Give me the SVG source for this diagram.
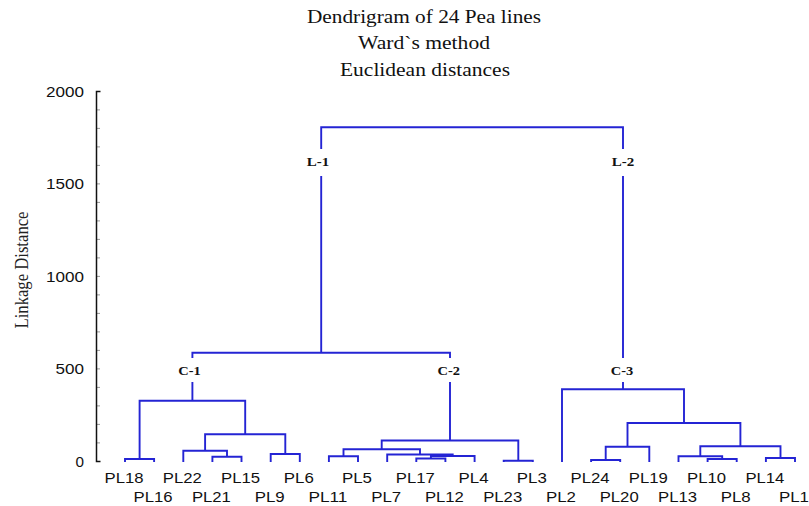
<svg xmlns="http://www.w3.org/2000/svg" width="809" height="506" viewBox="0 0 809 506">
<style>
.title{font-family:"Liberation Serif","Times New Roman",serif;font-size:19px;fill:#111;text-anchor:middle}
.ylab{font-family:"Liberation Serif","Times New Roman",serif;font-size:18px;fill:#222;text-anchor:middle}
.num{font-family:"Liberation Sans",Arial,sans-serif;font-size:14.5px;fill:#111;text-anchor:end}
.leaf{font-family:"Liberation Sans",Arial,sans-serif;font-size:14px;fill:#111;text-anchor:middle}
.cl{font-family:"Liberation Serif","Times New Roman",serif;font-size:12.5px;font-weight:bold;fill:#111;text-anchor:middle}
.link{fill:none;stroke:#2424d4;stroke-width:1.9}
.axis{fill:none;stroke:#111;stroke-width:1.5}
.minor{stroke:#999;stroke-width:1}
</style>
<rect width="809" height="506" fill="#fff"/>
<g id="title">
<text class="title" x="424" y="23" textLength="234" lengthAdjust="spacingAndGlyphs">Dendrigram of 24 Pea lines</text>
<text class="title" x="424" y="49" textLength="132" lengthAdjust="spacingAndGlyphs">Ward`s method</text>
<text class="title" x="425" y="76" textLength="170" lengthAdjust="spacingAndGlyphs">Euclidean distances</text>
</g>
<g id="y-axis">
<path class="minor" d="M96.5 109.9H100M96.5 128.4H100M96.5 146.9H100M96.5 165.4H100M96.5 202.4H100M96.5 220.9H100M96.5 239.4H100M96.5 257.9H100M96.5 294.9H100M96.5 313.4H100M96.5 331.9H100M96.5 350.4H100M96.5 387.4H100M96.5 405.9H100M96.5 424.4H100M96.5 442.9H100M96.5 183.9H100M96.5 276.4H100M96.5 368.9H100"/>
<path class="axis" d="M100.5 91.5H96.5V461.5H100.5"/>
<text class="num" x="84" y="96.5" textLength="38" lengthAdjust="spacingAndGlyphs">2000</text>
<text class="num" x="84" y="189" textLength="38" lengthAdjust="spacingAndGlyphs">1500</text>
<text class="num" x="84" y="281.5" textLength="38" lengthAdjust="spacingAndGlyphs">1000</text>
<text class="num" x="84" y="374" textLength="28.5" lengthAdjust="spacingAndGlyphs">500</text>
<text class="num" x="84" y="466.5" textLength="8.5" lengthAdjust="spacingAndGlyphs">0</text>
<text class="ylab" transform="translate(27.5,270) rotate(-90)" x="0" y="0" textLength="117" lengthAdjust="spacingAndGlyphs">Linkage Distance</text>
</g>
<g id="connectors">
<path class="link" d="M125 462V459H154.1V462"/>
<path class="link" d="M212.4 462V456.7H241.5V462"/>
<path class="link" d="M183.3 462V450.7H227V456.7"/>
<path class="link" d="M270.7 462V454H299.8V462"/>
<path class="link" d="M205.1 450.7V434.3H285.3V454"/>
<path class="link" d="M139.6 459V400.7H245.2V434.3"/>
<path class="link" d="M192.4 400.7V382M192.4 358V352.7H450V358M450 382V440.5"/>
<path class="link" d="M328.9 462V456.3H358V462"/>
<path class="link" d="M416.3 462V458.5H445.4V462"/>
<path class="link" d="M430.9 458.5V456H474.6V462"/>
<path class="link" d="M387.2 462V454.5H452.7V456"/>
<path class="link" d="M343.5 456.3V449.3H420V454.5"/>
<path class="link" d="M503.7 462V460.7H532.8V462"/>
<path class="link" d="M381.7 449.3V440.5H518.3V460.7"/>
<path class="link" d="M321.2 352.7V176M321.2 149V127.3H623V149M623 176V358M623 382V389.3"/>
<path class="link" d="M591.1 462V460H620.2V462"/>
<path class="link" d="M605.7 460V446.7H649.3V462"/>
<path class="link" d="M707.6 462V459H736.7V462"/>
<path class="link" d="M678.5 462V456.3H722.2V459"/>
<path class="link" d="M765.9 462V458H795V462"/>
<path class="link" d="M700.3 456.3V446.3H780.5V458"/>
<path class="link" d="M627.5 446.7V423H740.4V446.3"/>
<path class="link" d="M562 462V389.3H684V423"/>
</g>
<g id="node-L-1"><text class="cl" x="318" y="166" textLength="22.5" lengthAdjust="spacingAndGlyphs">L-1</text></g>
<g id="node-L-2"><text class="cl" x="623" y="166" textLength="22.5" lengthAdjust="spacingAndGlyphs">L-2</text></g>
<g id="node-C-1"><text class="cl" x="189.5" y="375" textLength="22.5" lengthAdjust="spacingAndGlyphs">C-1</text></g>
<g id="node-C-2"><text class="cl" x="448.7" y="375" textLength="22.5" lengthAdjust="spacingAndGlyphs">C-2</text></g>
<g id="node-C-3"><text class="cl" x="622" y="375" textLength="22.5" lengthAdjust="spacingAndGlyphs">C-3</text></g>
<g id="leaf-PL18"><text class="leaf" x="124" y="482.5" textLength="39" lengthAdjust="spacingAndGlyphs">PL18</text></g>
<g id="leaf-PL16"><text class="leaf" x="153.1" y="501.5" textLength="39" lengthAdjust="spacingAndGlyphs">PL16</text></g>
<g id="leaf-PL22"><text class="leaf" x="182.3" y="482.5" textLength="39" lengthAdjust="spacingAndGlyphs">PL22</text></g>
<g id="leaf-PL21"><text class="leaf" x="211.4" y="501.5" textLength="39" lengthAdjust="spacingAndGlyphs">PL21</text></g>
<g id="leaf-PL15"><text class="leaf" x="240.5" y="482.5" textLength="39" lengthAdjust="spacingAndGlyphs">PL15</text></g>
<g id="leaf-PL9"><text class="leaf" x="269.7" y="501.5" textLength="30" lengthAdjust="spacingAndGlyphs">PL9</text></g>
<g id="leaf-PL6"><text class="leaf" x="298.8" y="482.5" textLength="30" lengthAdjust="spacingAndGlyphs">PL6</text></g>
<g id="leaf-PL11"><text class="leaf" x="327.9" y="501.5" textLength="39" lengthAdjust="spacingAndGlyphs">PL11</text></g>
<g id="leaf-PL5"><text class="leaf" x="357" y="482.5" textLength="30" lengthAdjust="spacingAndGlyphs">PL5</text></g>
<g id="leaf-PL7"><text class="leaf" x="386.2" y="501.5" textLength="30" lengthAdjust="spacingAndGlyphs">PL7</text></g>
<g id="leaf-PL17"><text class="leaf" x="415.3" y="482.5" textLength="39" lengthAdjust="spacingAndGlyphs">PL17</text></g>
<g id="leaf-PL12"><text class="leaf" x="444.4" y="501.5" textLength="39" lengthAdjust="spacingAndGlyphs">PL12</text></g>
<g id="leaf-PL4"><text class="leaf" x="473.6" y="482.5" textLength="30" lengthAdjust="spacingAndGlyphs">PL4</text></g>
<g id="leaf-PL23"><text class="leaf" x="502.7" y="501.5" textLength="39" lengthAdjust="spacingAndGlyphs">PL23</text></g>
<g id="leaf-PL3"><text class="leaf" x="531.8" y="482.5" textLength="30" lengthAdjust="spacingAndGlyphs">PL3</text></g>
<g id="leaf-PL2"><text class="leaf" x="561" y="501.5" textLength="30" lengthAdjust="spacingAndGlyphs">PL2</text></g>
<g id="leaf-PL24"><text class="leaf" x="590.1" y="482.5" textLength="39" lengthAdjust="spacingAndGlyphs">PL24</text></g>
<g id="leaf-PL20"><text class="leaf" x="619.2" y="501.5" textLength="39" lengthAdjust="spacingAndGlyphs">PL20</text></g>
<g id="leaf-PL19"><text class="leaf" x="648.3" y="482.5" textLength="39" lengthAdjust="spacingAndGlyphs">PL19</text></g>
<g id="leaf-PL13"><text class="leaf" x="677.5" y="501.5" textLength="39" lengthAdjust="spacingAndGlyphs">PL13</text></g>
<g id="leaf-PL10"><text class="leaf" x="706.6" y="482.5" textLength="39" lengthAdjust="spacingAndGlyphs">PL10</text></g>
<g id="leaf-PL8"><text class="leaf" x="735.7" y="501.5" textLength="30" lengthAdjust="spacingAndGlyphs">PL8</text></g>
<g id="leaf-PL14"><text class="leaf" x="764.9" y="482.5" textLength="39" lengthAdjust="spacingAndGlyphs">PL14</text></g>
<g id="leaf-PL1"><text class="leaf" x="794" y="501.5" textLength="30" lengthAdjust="spacingAndGlyphs">PL1</text></g>
</svg>
